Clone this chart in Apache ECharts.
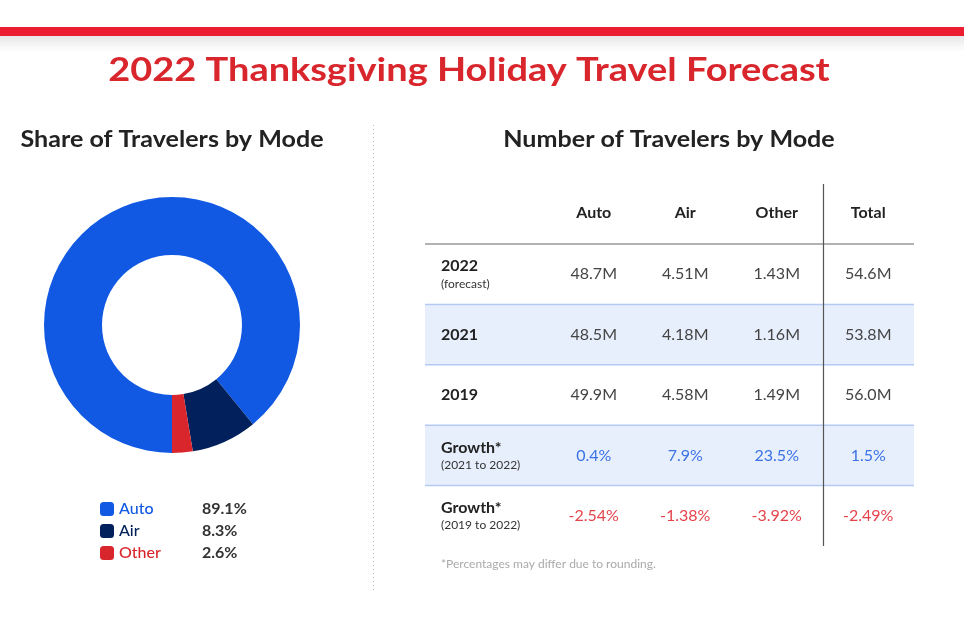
<!DOCTYPE html>
<html>
<head>
<meta charset="utf-8">
<script src="https://cdn.jsdelivr.net/npm/echarts@6/dist/echarts.min.js"></script>
<style>html,body{margin:0;padding:0;background:#fff}#c{width:964px;height:643px}</style>
</head>
<body>
<div id="c"></div>
<script>
// ---- data ----
const modes = ['Auto', 'Air', 'Other'];
const shareValues = [89.1, 8.3, 2.6];
const columns = ['Auto', 'Air', 'Other', 'Total'];
const rowNames = ['2022', '2021', '2019', 'Growth*', 'Growth*'];
const rowNotes = ['(forecast)', '', '', '(2021 to 2022)', '(2019 to 2022)'];
const travelers2022 = [48.7, 4.51, 1.43, 54.6];
const travelers2021 = [48.5, 4.18, 1.16, 53.8];
const travelers2019 = [49.9, 4.58, 1.49, 56.0];
const growth2021to2022 = [0.4, 7.9, 23.5, 1.5];
const growth2019to2022 = [-2.54, -1.38, -3.92, -2.49];

const FONT = 'Lato, "Open Sans", sans-serif';
const modeColors = ['#1159e2', '#02205b', '#d9262c'];

const tableRows = [
  { vals: travelers2022, fmt: v => v.toPrecision(3) + 'M', color: '#444' },
  { vals: travelers2021, fmt: v => v.toPrecision(3) + 'M', color: '#444' },
  { vals: travelers2019, fmt: v => v.toPrecision(3) + 'M', color: '#444' },
  { vals: growth2021to2022, fmt: v => v.toFixed(1) + '%', color: '#3a72e6' },
  { vals: growth2019to2022, fmt: v => v.toFixed(2) + '%', color: '#e5434b' }
];
const cells = [];
tableRows.forEach((row, r) => row.vals.forEach((v, c) => cells.push({ c, r, text: row.fmt(v), color: row.color })));

const LABEL_COL_W = 123;

const chart = echarts.init(document.getElementById('c'), null, { renderer: 'canvas' });
chart.setOption({
  animation: false,
  color: modeColors,
  graphic: [
    { type: 'rect', shape: { x: 0, y: 36, width: 964, height: 16 }, style: { fill: new echarts.graphic.LinearGradient(0, 0, 0, 1, [{ offset: 0, color: 'rgba(0,0,0,0.09)' }, { offset: 1, color: 'rgba(0,0,0,0)' }]) } },
    { type: 'rect', shape: { x: 0, y: 27, width: 964, height: 9 }, style: { fill: '#ec1d30' } },
    { type: 'text', x: 469, y: 70, scaleX: 1.15, style: { text: '2022 Thanksgiving Holiday Travel Forecast', font: 'bold 33px ' + FONT, fill: '#d9262c', align: 'center', verticalAlign: 'middle' } },
    { type: 'text', x: 172, y: 140, scaleX: 1.14, style: { text: 'Share of Travelers by Mode', font: 'bold 22px ' + FONT, fill: '#222', align: 'center', verticalAlign: 'middle' } },
    { type: 'text', x: 669, y: 140, scaleX: 1.14, style: { text: 'Number of Travelers by Mode', font: 'bold 22px ' + FONT, fill: '#222', align: 'center', verticalAlign: 'middle' } },
    { type: 'line', shape: { x1: 373.5, y1: 125, x2: 373.5, y2: 590 }, style: { stroke: '#bbb', lineWidth: 1, lineDash: [1, 3] } },
    { type: 'text', x: 441, y: 564, style: { text: '*Percentages may differ due to rounding.', font: '12px ' + FONT, fill: '#aaa', verticalAlign: 'middle' } }
  ],
  legend: {
    orient: 'vertical',
    left: 95,
    top: 496,
    itemWidth: 14,
    itemHeight: 14,
    itemGap: 6,
    itemTextGap: 8,
    icon: 'roundRect',
    selectedMode: false,
    data: modes.map((m, i) => ({ name: m, textStyle: { color: modeColors[i] } })),
    formatter: name => `{n|${name}}{v|${shareValues[modes.indexOf(name)].toFixed(1)}%}`,
    textStyle: {
      fontFamily: FONT,
      fontSize: 16,
      rich: {
        n: { width: 83, fontSize: 16, fontFamily: FONT, fontWeight: 500, lineHeight: 16 },
        v: { fontSize: 16, fontFamily: FONT, fontWeight: 'bold', color: '#333', lineHeight: 16 }
      }
    }
  },
  grid: { left: 548, right: 50, top: 244, bottom: 97 },
  xAxis: {
    type: 'category',
    position: 'top',
    z: 10,
    data: columns,
    axisLine: { show: false },
    axisTick: { show: false },
    axisLabel: { margin: 23, fontFamily: FONT, fontSize: 16, fontWeight: 'bold', color: '#222' },
    splitLine: { show: false }
  },
  yAxis: {
    type: 'category',
    inverse: true,
    z: 10,
    data: rowNames,
    axisLine: { show: false },
    axisTick: { show: false },
    splitLine: { show: false },
    axisLabel: {
      align: 'left',
      margin: 107,
      interval: 0,
      formatter: (v, i) => rowNotes[i] ? `{b|${v}}\n{s|${rowNotes[i]}}` : `{b|${v}}`,
      rich: {
        b: { fontFamily: FONT, fontSize: 16, fontWeight: 'bold', color: '#222', lineHeight: 19 },
        s: { fontFamily: FONT, fontSize: 12, color: '#333', lineHeight: 16 }
      }
    }
  },
  series: [
    {
      type: 'pie',
      center: [172, 325],
      radius: [70, 128],
      startAngle: 270,
      clockwise: true,
      label: { show: false },
      labelLine: { show: false },
      emphasis: { disabled: true },
      silent: true,
      data: modes.map((m, i) => ({ name: m, value: shareValues[i] }))
    },
    {
      type: 'custom',
      silent: true,
      z: 1,
      data: rowNames.map((n, r) => [0, r]),
      renderItem: (params, api) => {
        const cs = params.coordSys;
        const r = api.value(1);
        const y = api.coord([0, r])[1];
        const h = api.size([0, 1])[1];
        const top = y - h / 2;
        const children = [];
        if (r % 2 === 1) {
          children.push({ type: 'rect', shape: { x: cs.x - LABEL_COL_W, y: top, width: cs.width + LABEL_COL_W, height: h }, style: { fill: '#e8effc' } });
        }
        children.push({ type: 'line', z2: 5, shape: { x1: cs.x - LABEL_COL_W, y1: top, x2: cs.x + cs.width, y2: top }, style: { stroke: r === 0 ? '#666' : '#b4caf2', lineWidth: r === 0 ? 1.2 : 1.5 } });
        if (r === 0) {
          const vx = Math.round(cs.x + cs.width * 3 / 4) + 0.5;
          children.push({ type: 'line', z2: 6, shape: { x1: vx, y1: cs.y - 60, x2: vx, y2: cs.y + cs.height }, style: { stroke: '#555', lineWidth: 1.2 } });
        }
        return { type: 'group', children };
      }
    },
    {
      type: 'custom',
      silent: true,
      z: 3,
      data: cells.map(d => [d.c, d.r]),
      renderItem: (params, api) => {
        const d = cells[params.dataIndex];
        const p = api.coord([api.value(0), api.value(1)]);
        return { type: 'text', x: p[0], y: p[1], style: { text: d.text, font: '16px ' + FONT, fill: d.color, align: 'center', verticalAlign: 'middle' } };
      }
    }
  ]
});
</script>
</body>
</html>
